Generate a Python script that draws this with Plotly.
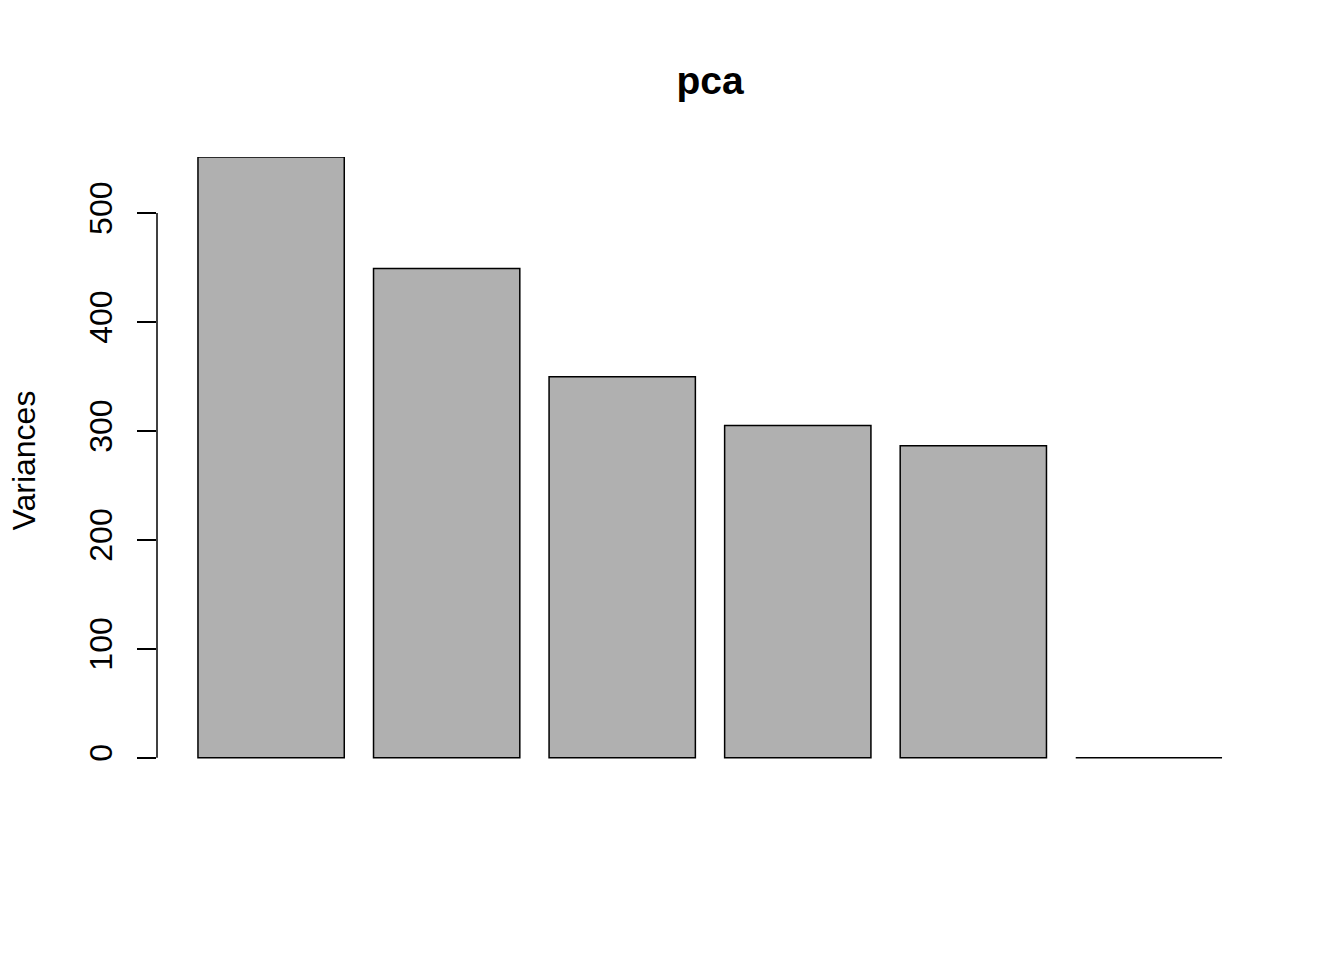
import plotly.graph_objects as go

components = ["PC1", "PC2", "PC3", "PC4", "PC5", "PC6"]
variances = [551.4, 449.1, 349.7, 304.9, 286.3, 0.0]
y_ticks = [0, 100, 200, 300, 400, 500]

# R barplot geometry: width 1, space 0.2
centers = [0.7 + 1.2 * i for i in range(len(components))]

FONT = "Liberation Sans, Arial, Helvetica, sans-serif"

fig = go.Figure()
fig.add_trace(go.Bar(
    x=centers,
    y=variances,
    width=1.0,
    marker=dict(color="#B0B0B0", line=dict(color="black", width=1.5)),
    text=components,
    textposition="none",
    hoverinfo="text+y",
))

fig.update_layout(
    width=1344,
    height=960,
    paper_bgcolor="white",
    plot_bgcolor="white",
    showlegend=False,
    margin=dict(l=149, r=89, t=149, b=204),
    font=dict(family=FONT, color="black", size=32),
    title=dict(
        text="<b>pca</b>",
        x=(710 - 8) / 1344, xanchor="center",
        y=1 - 72 / 960, yanchor="middle",
        font=dict(size=39, family=FONT, color="black"),
    ),
    xaxis=dict(
        range=[-0.08, 7.48],
        showticklabels=False,
        showgrid=False,
        zeroline=False,
        showline=False,
        ticks="",
        fixedrange=True,
    ),
    yaxis=dict(
        range=[-5.8, 551.4],
        tickvals=y_ticks,
        ticktext=[str(v) for v in y_ticks],
        tickangle=-90,
        ticks="outside",
        ticklen=19,
        tickwidth=1.5,
        tickcolor="black",
        showgrid=False,
        zeroline=False,
        showline=False,
        tickfont=dict(size=32, family=FONT, color="black"),
        ticklabelstandoff=12,
    ),
    annotations=[
        dict(
            text="Variances",
            xref="paper", yref="paper",
            x=0, y=0.5,
            xanchor="center", yanchor="middle",
            xshift=-(157 - 23),
            textangle=-90,
            showarrow=False,
            font=dict(size=32, family=FONT, color="black"),
        )
    ],
    shapes=[
        dict(
            type="line",
            xref="paper", yref="y",
            x0=0, x1=0,
            y0=y_ticks[0], y1=y_ticks[-1],
            line=dict(color="black", width=1.5),
        )
    ],
)

fig.write_html("out.html")
